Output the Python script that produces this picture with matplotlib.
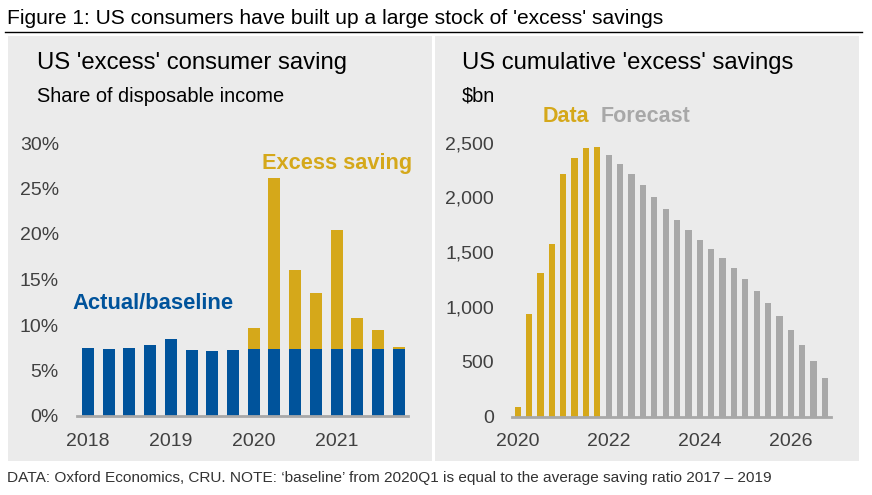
import matplotlib
matplotlib.use("Agg")
import matplotlib.pyplot as plt
from matplotlib.patches import Rectangle
from matplotlib.lines import Line2D

# ---------------- data ----------------
left_quarters = ["2018Q1", "2018Q2", "2018Q3", "2018Q4",
                 "2019Q1", "2019Q2", "2019Q3", "2019Q4",
                 "2020Q1", "2020Q2", "2020Q3", "2020Q4",
                 "2021Q1", "2021Q2", "2021Q3", "2021Q4"]
baseline = [7.5, 7.4, 7.5, 7.8, 8.5, 7.25, 7.15, 7.25,
            7.35, 7.35, 7.35, 7.35, 7.35, 7.35, 7.35, 7.35]
total_saving = [7.5, 7.4, 7.5, 7.8, 8.5, 7.25, 7.15, 7.25,
                9.7, 26.1, 16.0, 13.5, 20.4, 10.8, 9.45, 7.6]
left_year_labels = ["2018", "2019", "2020", "2021"]
left_year_pos = [0, 4, 8, 12]
left_yticks = [0, 5, 10, 15, 20, 25, 30]

cum_data = [90, 935, 1310, 1575, 2210, 2360, 2450, 2460]
cum_forecast = [2385, 2305, 2215, 2110, 2005, 1895, 1795, 1705,
                1610, 1530, 1445, 1355, 1255, 1145, 1035, 915,
                790, 655, 510, 355]
right_year_labels = ["2020", "2022", "2024", "2026"]
right_year_pos = [0, 8, 16, 24]
right_yticks = [0, 500, 1000, 1500, 2000, 2500]

# ---------------- style ----------------
BLUE = "#00539B"
GOLD = "#D5A81A"
GREY = "#A8A8A8"
BG = "#EBEBEB"
TICK = "#404040"
plt.rcParams["font.family"] = ["Liberation Sans", "DejaVu Sans"]

W, H = 872, 495
fig = plt.figure(figsize=(W / 100, H / 100), dpi=100)
fig.patch.set_facecolor("white")

def px_rect(x0, y0, x1, y1):
    return [x0 / W, 1 - y1 / H, (x1 - x0) / W, (y1 - y0) / H]

# panel backgrounds
for (x0, y0, x1, y1) in [(8, 36, 432, 461), (435, 36, 859, 461)]:
    r = px_rect(x0, y0, x1, y1)
    fig.patches.append(Rectangle((r[0], r[1]), r[2], r[3], transform=fig.transFigure,
                                 facecolor=BG, edgecolor="none", zorder=-5))

# header
fig.text(7 / W, 1 - 19 / H, "Figure 1: US consumers have built up a large stock of 'excess' savings",
         fontsize=15.15, color="black", va="center", ha="left")
fig.lines.append(Line2D([5 / W, 862 / W], [1 - 32 / H, 1 - 32 / H], transform=fig.transFigure,
                        color="black", lw=1.0))
# footer
fig.text(7 / W, 1 - 478 / H,
         "DATA: Oxford Economics, CRU. NOTE: \u2018baseline\u2019 from 2020Q1 is equal to the average saving ratio 2017 \u2013 2019",
         fontsize=11.1, color="#333333", va="center", ha="left")

# panel titles
fig.text(37 / W, 1 - 63 / H, "US 'excess' consumer saving", fontsize=17.2, color="black",
         va="center", ha="left")
fig.text(37 / W, 1 - 96 / H, "Share of disposable income", fontsize=14.4, color="black",
         va="center", ha="left")
fig.text(462 / W, 1 - 63 / H, "US cumulative 'excess' savings", fontsize=17.2, color="black",
         va="center", ha="left")
fig.text(462 / W, 1 - 96 / H, "$bn", fontsize=14.4, color="black", va="center", ha="left")

def style_axis(ax):
    ax.set_facecolor("none")
    for s in ["top", "right", "left"]:
        ax.spines[s].set_visible(False)
    ax.spines["bottom"].set_color(GREY)
    ax.spines["bottom"].set_linewidth(2)
    ax.tick_params(length=0, labelsize=14, labelcolor=TICK)
    ax.tick_params(axis="y", pad=13)
    ax.tick_params(axis="x", pad=12)

# ---------------- left chart ----------------
axL = fig.add_axes(px_rect(77, 143, 408, 416))
xl = list(range(len(left_quarters)))
excess = [t - b for t, b in zip(total_saving, baseline)]
axL.bar(xl, baseline, width=0.58, color=BLUE, zorder=2)
axL.bar(xl, excess, bottom=baseline, width=0.58, color=GOLD, zorder=2)
axL.set_xlim(-0.53, 15.45)
axL.set_ylim(0, 30)
axL.set_yticks(left_yticks)
axL.set_yticklabels([f"{v}%" for v in left_yticks])
axL.set_xticks(left_year_pos)
axL.set_xticklabels(left_year_labels)
style_axis(axL)
axL.text(8.4, 27.8, "Excess saving", fontsize=15.7, fontweight="bold", color=GOLD,
         ha="left", va="center")
axL.text(-0.75, 12.4, "Actual/baseline", fontsize=15.8, fontweight="bold", color=BLUE,
         ha="left", va="center")

# ---------------- right chart ----------------
axR = fig.add_axes(px_rect(512, 142.5, 831, 416.5))
xd = list(range(len(cum_data)))
xf = list(range(len(cum_data), len(cum_data) + len(cum_forecast)))
axR.bar(xd, cum_data, width=0.55, color=GOLD, zorder=2)
axR.bar(xf, cum_forecast, width=0.55, color=GREY, zorder=2)
axR.set_xlim(-0.5, 27.53)
axR.set_ylim(0, 2500)
axR.set_yticks(right_yticks)
axR.set_yticklabels([f"{v:,}" for v in right_yticks])
axR.set_xticks(right_year_pos)
axR.set_xticklabels(right_year_labels)
style_axis(axR)
axR.text(2.2, 2740, "Data", fontsize=15.5, fontweight="bold", color=GOLD,
         ha="left", va="center", clip_on=False)
axR.text(7.25, 2740, "Forecast", fontsize=15.5, fontweight="bold", color=GREY,
         ha="left", va="center", clip_on=False)

fig.savefig("out.png", dpi=100, facecolor="white")
